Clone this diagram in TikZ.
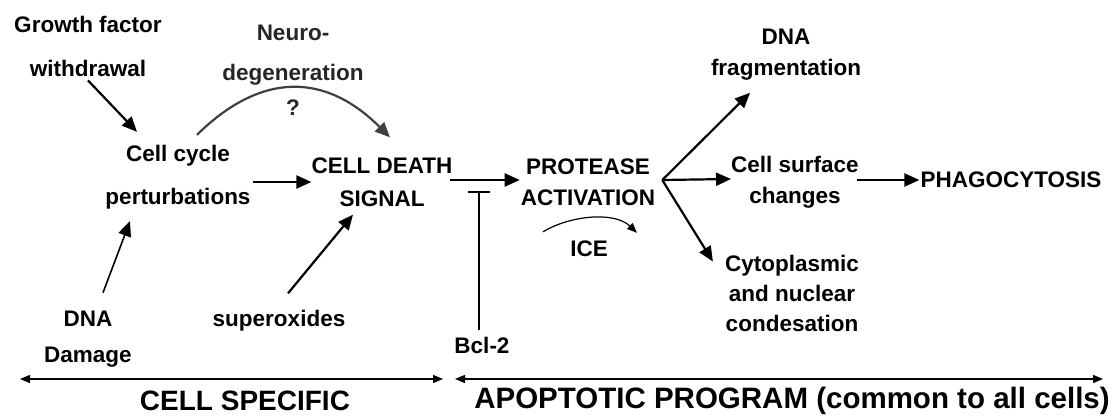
\documentclass[tikz,border=0pt]{standalone}
\usepackage{fontspec}
\setmainfont{Liberation Sans}
\usetikzlibrary{arrows.meta,calc}
\newcommand\lf[1]{\fontsize{22.5}{#1}\selectfont\bfseries}
\begin{document}
\begin{tikzpicture}[x=1pt,y=-1pt,
  lbl/.style={inner sep=0pt, align=center},
  arr/.style={line width=2.2pt, -{Triangle[length=15pt,width=13pt]}},
  midarr/.style={line width=1.6pt, -{Triangle[length=15pt,width=13pt]}},
  thinarr/.style={line width=1.2pt, -{Triangle[length=10pt,width=8pt]}},
  span/.style={line width=1.4pt, {Triangle[length=10pt,width=8pt]}-{Triangle[length=10pt,width=8pt]}},
  inhib/.style={line width=1.6pt, -{Bar[width=22pt,line width=2pt]}}]
\useasboundingbox[fill=white] (0,0) rectangle (1120,419);

\node[lbl,font=\lf{44}] (gf) at (88,46) {Growth factor\\withdrawal};
\node[lbl,font=\lf{40},text=black!85] (neuro) at (293,55) {Neuro-\\degeneration};
\node[lbl,font=\lf{26},text=black!85] (q) at (293,108) {?};
\node[lbl,font=\lf{43}] (cc) at (178,177) {Cell cycle\\perturbations};
\node[lbl,font=\lf{33}] (cds) at (382,182) {CELL DEATH\\SIGNAL};
\node[lbl,font=\lf{31}] (pa) at (588,182) {PROTEASE\\ACTIVATION};
\node[lbl,font=\lf{31}] (dna2) at (786,55) {DNA\\fragmentation};
\node[lbl,font=\lf{31}] (cs) at (795,182) {Cell surface\\changes};
\node[lbl,font=\lf{26}] (phago) at (1011,180) {PHAGOCYTOSIS};
\node[lbl,font=\lf{30}] (cyto) at (792,293) {Cytoplasmic\\and nuclear\\condesation};
\node[lbl,font=\lf{26}] (ice) at (589,249) {ICE};
\node[lbl,font=\lf{36}] (dna1) at (88,339) {DNA\\Damage};
\node[lbl,font=\lf{26}] (sup) at (279,321) {superoxides};
\node[lbl,font=\lf{26}] (bcl) at (482,345) {Bcl-2};
\node[lbl,font=\fontsize{28}{32}\selectfont\bfseries] (cspec) at (245,401) {CELL SPECIFIC};
\node[lbl,font=\fontsize{29.5}{32}\selectfont\bfseries] (apop) at (792,401) {APOPTOTIC PROGRAM (common to all cells)};

\coordinate (br) at ($(pa.east)+(7,-2)$);
\coordinate (s1) at (20,379);
\coordinate (s2) at (443,379);
\coordinate (s3) at (455,379);
\coordinate (s4) at (1103,379);

\draw[arr] ($(gf.south)+(0,4)$) -- ($(cc.north)+(-41,-13)$);
\draw[arr,draw=black!75] ($(cc.north)+(19,-10)$) .. controls ($(cc.north)+(83,-73)$) and ($(cds.north)+(-57,-85)$) .. ($(cds.north)+(8,-20)$);
\draw[arr] ($(cc.east)+(2,5)$) -- (cds.west);
\draw[arr] ($(cds.east)+(-3,-2)$) -- ($(pa.west)+(-1,-2)$);
\draw[inhib] ($(bcl.north)+(-3,-7)$) -- ($(bcl.north)+(-3,-146)$);
\draw[arr] (br) -- ($(dna2.south)+(-36,12)$);
\draw[arr] (br) -- ($(cs.west)+(0,-3)$);
\draw[arr] (br) -- ($(cyto.north west)+(-12,7)$);
\draw[arr] ($(cs.east)+(-2,-2)$) -- ($(phago.west)+(-1,0)$);
\draw[thinarr] ($(ice.north)+(-46,-9)$) .. controls ($(ice.north)+(-20,-25)$) and ($(ice.north)+(25,-30)$) .. ($(ice.north)+(48,-8)$);
\draw[midarr] ($(dna1.north)+(15,-18)$) -- ($(cc.south)+(-48,12)$);
\draw[arr] ($(sup.north)+(9,-17)$) -- ($(cds.south)+(-29,8)$);
\draw[span] (s1) -- (s2);
\draw[span] (s3) -- (s4);
\end{tikzpicture}
\end{document}
